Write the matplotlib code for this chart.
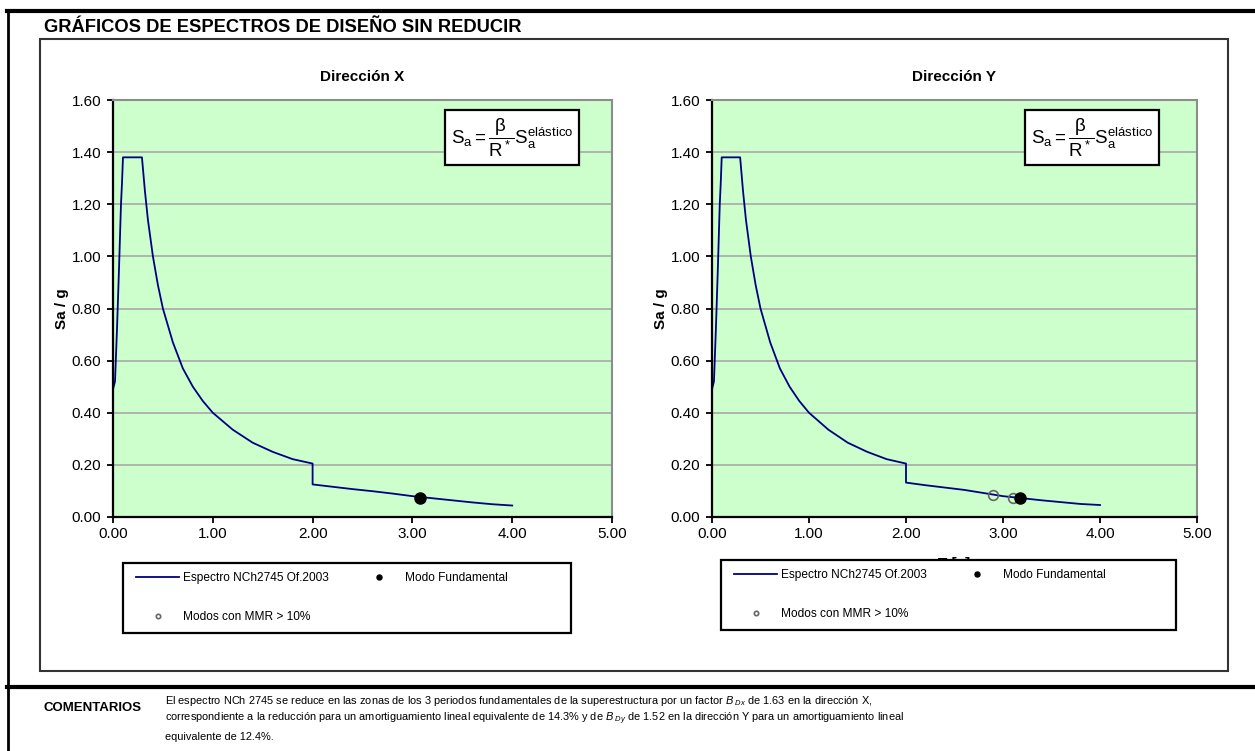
import matplotlib
matplotlib.use("Agg")
import matplotlib.pyplot as plt
from matplotlib.lines import Line2D
from matplotlib.patches import Rectangle

plt.rcParams['font.family'] = ['Liberation Sans', 'DejaVu Sans']
plt.rcParams['mathtext.fontset'] = 'custom'
plt.rcParams['mathtext.rm'] = 'Liberation Sans'
plt.rcParams['mathtext.it'] = 'Liberation Sans:italic'
plt.rcParams['mathtext.bf'] = 'Liberation Sans:bold'

# --- data ---
period_x = [0.00, 0.02, 0.04, 0.06, 0.08, 0.09, 0.10, 0.15, 0.20, 0.25, 0.29,
            0.32, 0.35, 0.40, 0.45, 0.50, 0.60, 0.70, 0.80, 0.90, 1.00, 1.20,
            1.40, 1.60, 1.80, 2.00, 2.00, 2.20, 2.40, 2.60, 2.80, 3.00, 3.20,
            3.40, 3.60, 3.80, 4.00]
sa_x = [0.49, 0.52, 0.72, 0.95, 1.20, 1.28, 1.38, 1.38, 1.38, 1.38, 1.38,
        1.25, 1.14, 1.00, 0.89, 0.80, 0.67, 0.57, 0.50, 0.445, 0.40, 0.335,
        0.285, 0.25, 0.222, 0.205, 0.125, 0.116, 0.107, 0.099, 0.090, 0.080,
        0.072, 0.064, 0.056, 0.049, 0.044]

period_y = period_x
sa_y = [0.49, 0.52, 0.72, 0.95, 1.20, 1.28, 1.38, 1.38, 1.38, 1.38, 1.38,
        1.25, 1.14, 1.00, 0.89, 0.80, 0.67, 0.57, 0.50, 0.445, 0.40, 0.335,
        0.285, 0.25, 0.222, 0.205, 0.132, 0.122, 0.113, 0.104, 0.092, 0.080,
        0.072, 0.064, 0.057, 0.050, 0.046]

fund_x = ([3.08], [0.074])
modes_x = ([], [])
fund_y = ([3.18], [0.072])
modes_y = ([2.90, 3.10], [0.084, 0.072])

x_ticks = [0, 1, 2, 3, 4, 5]
y_ticks = [0.0, 0.2, 0.4, 0.6, 0.8, 1.0, 1.2, 1.4, 1.6]

W, H = 1255, 751
fig = plt.figure(figsize=(W / 100, H / 100), dpi=100)


def fx(px):
    return px / W


def fy(py):
    return 1 - py / H


def hline(x0, x1, y, lw, color='black'):
    fig.add_artist(Line2D([fx(x0), fx(x1)], [fy(y), fy(y)], lw=lw, color=color,
                          transform=fig.transFigure))


def vline(x, y0, y1, lw, color='black'):
    fig.add_artist(Line2D([fx(x), fx(x)], [fy(y0), fy(y1)], lw=lw, color=color,
                          transform=fig.transFigure))


# page frame
hline(7, 1255, 11, 3.0)
vline(8, 11, 751, 2.0)
hline(7, 1255, 687, 3.0)
fig.add_artist(Rectangle((fx(40), fy(671)), fx(1228) - fx(40), fy(39) - fy(671),
                         fill=False, ec='#333333', lw=1.5, transform=fig.transFigure))

fig.text(fx(44), fy(28), 'GRÁFICOS DE ESPECTROS DE DISEÑO SIN REDUCIR',
         fontsize=13.2, fontweight='bold', va='center', ha='left')


def spectrum_panel(rect, title, period, sa, fund, modes, formula_x, legend_box,
                   xlabel_pad):
    ax = fig.add_axes(rect)
    ax.set_facecolor('#ccffcc')
    ax.set_xlim(0, 5)
    ax.set_ylim(0, 1.6)
    ax.set_xticks(x_ticks)
    ax.set_yticks(y_ticks)
    ax.xaxis.set_major_formatter(lambda v, p: f'{v:.2f}')
    ax.yaxis.set_major_formatter(lambda v, p: f'{v:.2f}')
    ax.tick_params(labelsize=11, length=4.5, width=1.3, direction='out')
    ax.tick_params(axis='y', pad=4)
    ax.tick_params(axis='x', pad=3)
    ax.grid(axis='y', color='#a8a8a8', lw=1.2)
    ax.set_axisbelow(True)
    for s in ['top', 'right']:
        ax.spines[s].set_color('#8c8c8c')
        ax.spines[s].set_linewidth(1.5)
    for s in ['left', 'bottom']:
        ax.spines[s].set_color('black')
        ax.spines[s].set_linewidth(1.6)

    line, = ax.plot(period, sa, color='#000080', lw=1.3,
                    label='Espectro NCh2745 Of.2003')
    hollow, = ax.plot(modes[0], modes[1], 'o', ms=7, mfc='none', mec='#666666',
                      mew=1.2, label='Modos con MMR > 10%')
    filled, = ax.plot(fund[0], fund[1], 'o', ms=8, color='black',
                      label='Modo Fundamental')

    ax.set_title(title, fontsize=11, fontweight='bold', pad=14)
    ax.set_ylabel('Sa / g', fontsize=11, fontweight='bold', labelpad=2)
    ax.set_xlabel('T [s]', fontsize=11, fontweight='bold', labelpad=xlabel_pad)

    ax.text(formula_x, 1.456,
            r'$\mathregular{S_a = \dfrac{\beta}{R^*}S_a^{elástico}}$',
            fontsize=13.5, ha='center', va='center',
            bbox=dict(boxstyle='square,pad=0.3', fc='white', ec='black', lw=1.6))

    # legend box
    x0, y0, x1, y1 = legend_box
    fig.add_artist(Rectangle((fx(x0), fy(y1)), fx(x1) - fx(x0), fy(y0) - fy(y1),
                             fc='white', ec='black', lw=1.6, zorder=4,
                             transform=fig.transFigure))
    leg = fig.legend([line, hollow, filled],
                     [line.get_label(), hollow.get_label(), filled.get_label()],
                     loc='upper left', bbox_to_anchor=(fx(x0 + 13), fy(y0 + 9)),
                     ncol=2, frameon=False, fontsize=8.6, markerscale=0.45,
                     handlelength=3.6, handletextpad=0.35, labelspacing=2.3,
                     columnspacing=2.4, borderpad=0, borderaxespad=0)
    leg.set_zorder(5)
    return ax


spectrum_panel([fx(113), fy(517), fx(612) - fx(113), fy(100) - fy(517)],
               'Dirección X', period_x, sa_x, fund_x, modes_x, 4.0,
               (123, 563, 571, 633), 17)
spectrum_panel([fx(712), fy(517), fx(1197) - fx(712), fy(100) - fy(517)],
               'Dirección Y', period_y, sa_y, fund_y, modes_y, 3.92,
               (721, 560, 1176, 630), 11)

# comments
fig.text(fx(44), fy(708), 'COMENTARIOS', fontsize=9.5, fontweight='bold',
         va='center', ha='left')
comment_lines = [
    r'El espectro NCh 2745 se reduce en las zonas de los 3 periodos fundamentales de la superestructura por un factor $B_{\ Dx}$ de 1.63 en la dirección X,',
    r'correspondiente a la reducción para un amortiguamiento lineal equivalente de 14.3% y de $B_{\ Dy}$ de 1.52 en la dirección Y para un amortiguamiento lineal',
    'equivalente de 12.4%.',
]
for i, txt in enumerate(comment_lines):
    fig.text(fx(165), fy(701 + 18 * i), txt, fontsize=7.9, va='center', ha='left')

fig.savefig('out.png', dpi=100)
